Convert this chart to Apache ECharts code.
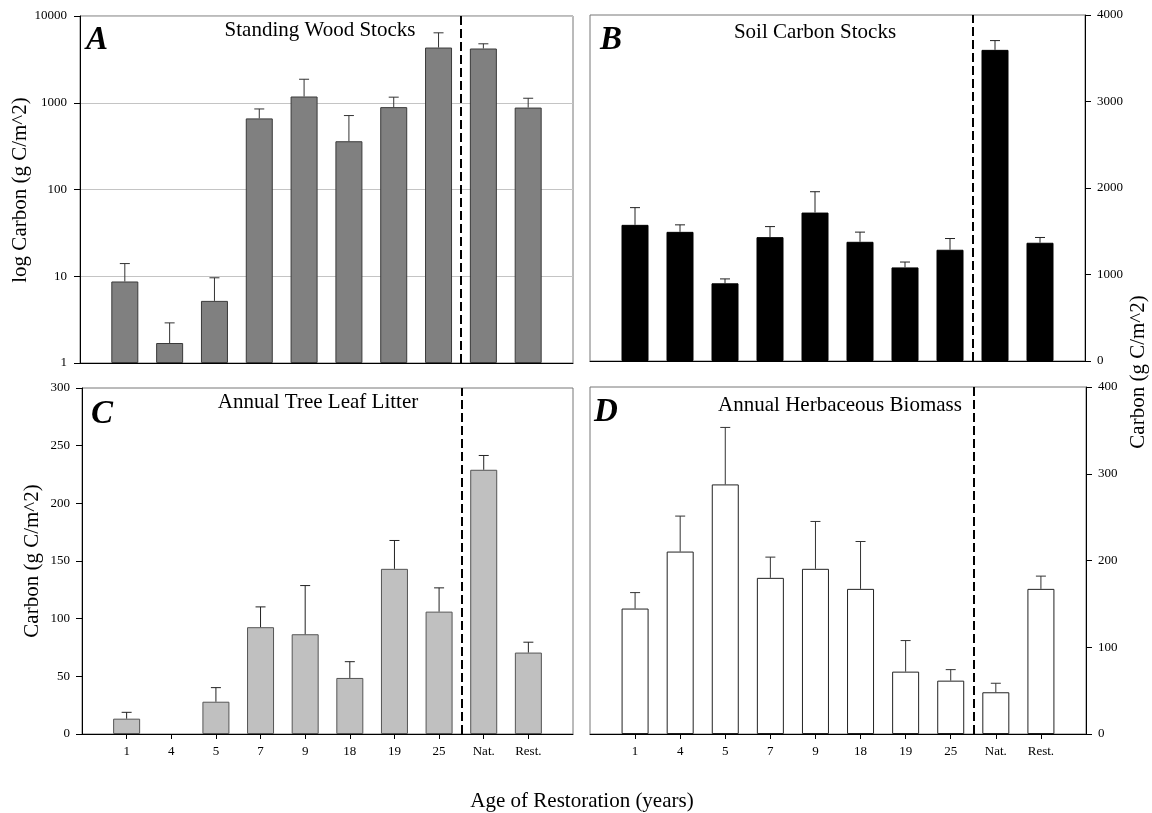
<!DOCTYPE html>
<html><head><meta charset="utf-8">
<script src="https://cdn.jsdelivr.net/npm/echarts@6/dist/echarts.min.js"></script>
<style>html,body{margin:0;padding:0;background:#fff}#c{width:1152px;height:813px}</style>
</head><body><div id="c"></div>
<script>
// ---- data ----
const categories = ['1', '4', '5', '7', '9', '18', '19', '25', 'Nat.', 'Rest.'];
// A: Standing wood stocks (g C/m^2), mean and standard error
const woodMean = [8.7, 1.7, 5.2, 660, 1180, 360, 890, 4330, 4220, 880];
const woodSE   = [5.3, 1.2, 4.4, 188, 686, 352, 270, 2070, 560, 247];
// B: Soil carbon stocks
const soilMean = [1574, 1493, 898, 1432, 1716, 1378, 1082, 1286, 3597, 1367];
const soilSE   = [199, 81, 51, 122, 241, 112, 62, 130, 107, 61];
// C: Annual tree leaf litter
const litterMean = [13.3, 0, 28, 92.6, 86.5, 48.6, 143.2, 106.1, 229.1, 70.6];
const litterSE   = [5.5, 0, 12.2, 17.6, 42.2, 14.1, 24.6, 20.6, 12.4, 9];
// D: Annual herbaceous biomass
const herbMean = [144.6, 210.3, 287.7, 180, 190.4, 167.3, 71.9, 61.5, 48.1, 167.3];
const herbSE   = [18.4, 40.9, 65.7, 23.9, 54.6, 54.6, 35.8, 12.7, 10.4, 14.7];
const panelTitles = ['Standing Wood Stocks', 'Soil Carbon Stocks', 'Annual Tree Leaf Litter', 'Annual Herbaceous Biomass'];
const panelLetters = ['A', 'B', 'C', 'D'];
const dividerPos = 8.5; // between "25" and "Nat."

// ---- chart ----
const F = 'Liberation Serif';
const chart = echarts.init(document.getElementById('c'), null, {renderer: 'canvas'});
const xPos = categories.map((c, i) => i + 1);
const barData = mean => mean.map((v, i) => [i + 1, v === 0 ? null : v]);
const errData = (mean, se) => mean.map((v, i) => [i + 1, v, v + se[i]]);
const plain = v => String(v);

function xAxisCfg(gridIndex, showLabels) {
  return {
    type: 'value', gridIndex, min: 0, max: 11, interval: 1,
    axisLine: {show: true, onZero: false, lineStyle: {color: '#000', width: 1}},
    axisTick: {show: showLabels, length: 5, inside: false, customValues: xPos, lineStyle: {color: '#000'}},
    axisLabel: {show: showLabels, customValues: xPos, formatter: v => categories[v - 1] || '',
      margin: 11, fontFamily: F, fontSize: 13, color: '#000'},
    splitLine: {show: false}
  };
}
function yAxisCfg(gridIndex, pos, extra) {
  return Object.assign({
    gridIndex, position: pos,
    axisLine: {show: true, onZero: false, lineStyle: {color: '#000', width: 1}},
    axisTick: {show: true, length: 6, inside: false, lineStyle: {color: '#000'}},
    axisLabel: {margin: 12, fontFamily: F, fontSize: 13, color: '#000', formatter: plain},
    splitLine: {show: false}
  }, extra);
}
function errRender(color) {
  return function (params, api) {
    const x = api.value(0), m = api.value(1), t = api.value(2);
    if (!(t > m)) return null;
    const p0 = api.coord([x, m]), p1 = api.coord([x, t]);
    const w = 5;
    return {type: 'group', children: [
      {type: 'line', shape: {x1: p0[0], y1: p0[1], x2: p1[0], y2: p1[1]}, style: {stroke: color, lineWidth: 1}},
      {type: 'line', shape: {x1: p1[0] - w, y1: p1[1], x2: p1[0] + w, y2: p1[1]}, style: {stroke: color, lineWidth: 1}}
    ]};
  };
}
function barSeries(k, mean, fill, border) {
  return {
    type: 'bar', xAxisIndex: k, yAxisIndex: k, data: barData(mean), barWidth: 27,
    itemStyle: {color: fill, borderColor: border, borderWidth: 1},
    markLine: {silent: true, symbol: ['none', 'none'], label: {show: false},
      lineStyle: {color: '#000', width: 2, type: [9, 4]}, data: [{xAxis: dividerPos}]}
  };
}
function errSeries(k, mean, se, color) {
  return {type: 'custom', xAxisIndex: k, yAxisIndex: k, data: errData(mean, se),
    encode: {x: 0, y: [1, 2]}, renderItem: errRender(color), z: 5};
}
function txt(x, y, text, font, extra) {
  return Object.assign({type: 'text', x, y, silent: true,
    style: {text, font, fill: '#000', textAlign: 'center', align: 'center', textVerticalAlign: 'middle', verticalAlign: 'middle'}}, extra || {});
}
const titleFont = '21px "Liberation Serif"';
const letterFont = 'italic bold 33px "Liberation Serif"';
const gridStyle = {show: true, borderColor: '#777', borderWidth: 1, backgroundColor: 'transparent'};

const option = {
  animation: false,
  backgroundColor: '#fff',
  grid: [
    Object.assign({left: 80, top: 16, width: 493, height: 347}, gridStyle),
    Object.assign({left: 590, top: 15, width: 495, height: 346}, gridStyle),
    Object.assign({left: 82, top: 388, width: 491, height: 346}, gridStyle),
    Object.assign({left: 590, top: 387, width: 496, height: 347}, gridStyle)
  ],
  xAxis: [xAxisCfg(0, false), xAxisCfg(1, false), xAxisCfg(2, true), xAxisCfg(3, true)],
  yAxis: [
    yAxisCfg(0, 'left', {type: 'log', logBase: 10, min: 1, max: 10000,
      axisLabel: {margin: 13, fontFamily: F, fontSize: 13, color: '#000', formatter: plain},
      splitLine: {show: true, lineStyle: {color: '#c4c4c4', width: 1}}}),
    yAxisCfg(1, 'right', {type: 'value', min: 0, max: 4000, interval: 1000}),
    yAxisCfg(2, 'left', {type: 'value', min: 0, max: 300, interval: 50}),
    yAxisCfg(3, 'right', {type: 'value', min: 0, max: 400, interval: 100})
  ],
  series: [
    barSeries(0, woodMean, '#808080', '#3a3a3a'),
    errSeries(0, woodMean, woodSE, '#333'),
    barSeries(1, soilMean, '#000', '#000'),
    errSeries(1, soilMean, soilSE, '#222'),
    barSeries(2, litterMean, '#c0c0c0', '#555'),
    errSeries(2, litterMean, litterSE, '#222'),
    barSeries(3, herbMean, '#fff', '#222'),
    errSeries(3, herbMean, herbSE, '#333')
  ],
  graphic: [
    txt(320, 30, panelTitles[0], titleFont),
    txt(815, 32, panelTitles[1], titleFont),
    txt(318, 402, panelTitles[2], titleFont),
    txt(840, 405, panelTitles[3], titleFont),
    txt(97, 40, panelLetters[0], letterFont),
    txt(611, 40, panelLetters[1], letterFont),
    txt(102, 414, panelLetters[2], letterFont),
    txt(606, 412, panelLetters[3], letterFont),
    txt(20, 190, 'log Carbon (g C/m^2)', titleFont, {rotation: Math.PI / 2}),
    txt(32, 561, 'Carbon (g C/m^2)', titleFont, {rotation: Math.PI / 2}),
    txt(1138, 372, 'Carbon (g C/m^2)', titleFont, {rotation: Math.PI / 2}),
    txt(582, 801, 'Age of Restoration (years)', titleFont)
  ]
};
chart.setOption(option);
</script>
</body></html>
